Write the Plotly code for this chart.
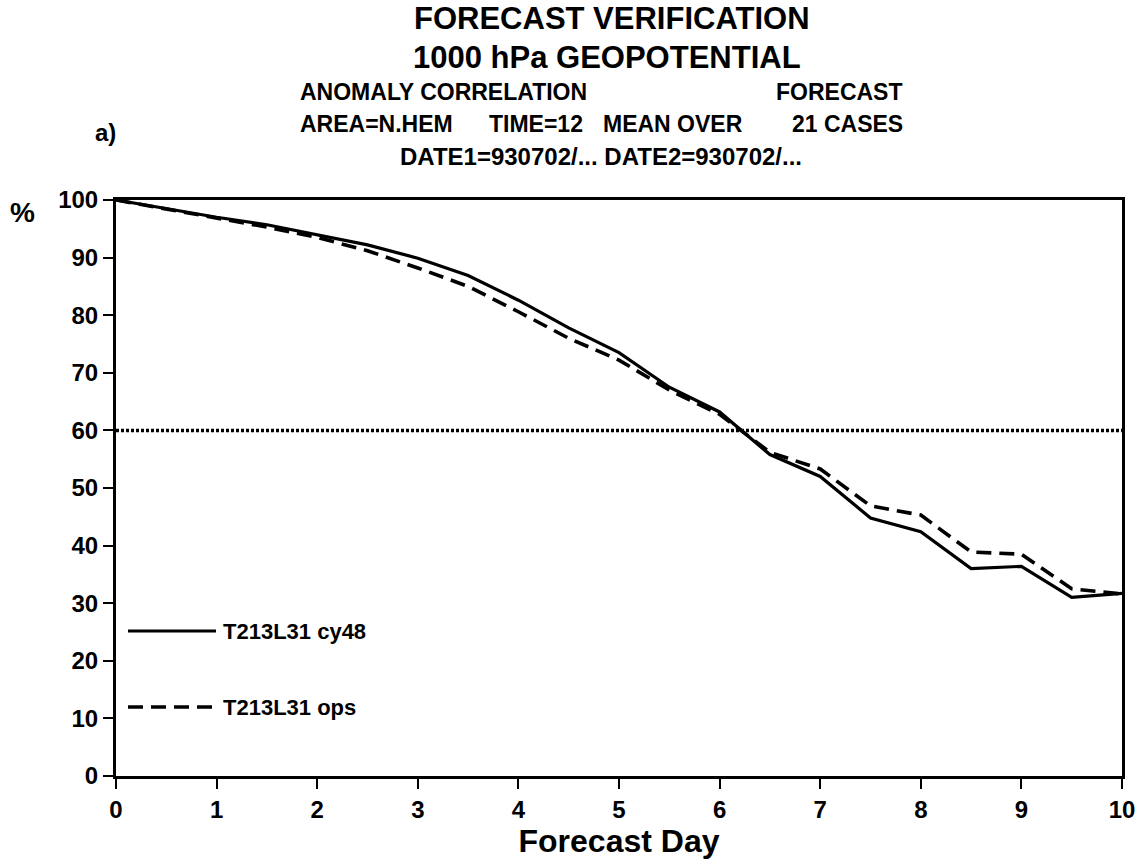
import plotly.graph_objects as go

# Forecast day (half-day steps) and anomaly correlation (%)
forecast_day = [0, 0.5, 1, 1.5, 2, 2.5, 3, 3.5, 4, 4.5, 5, 5.5, 6, 6.5, 7, 7.5, 8, 8.5, 9, 9.5, 10]
cy48 = [100, 98.5, 97.0, 95.7, 94.0, 92.2, 89.9, 86.9, 82.6, 77.8, 73.5, 67.5, 63.2,
        55.8, 52.0, 44.8, 42.4, 36.0, 36.4, 31.0, 31.7]
ops = [100, 98.4, 96.8, 95.3, 93.5, 91.2, 88.2, 85.0, 80.6, 76.0, 72.2, 67.0, 62.8,
       56.2, 53.3, 46.9, 45.3, 38.9, 38.5, 32.5, 31.6]
series_names = ["T213L31 cy48", "T213L31 ops"]
threshold = 60

x_ticks = list(range(0, 11))
y_ticks = list(range(0, 101, 10))

W, H = 1147, 865
L, R, T, B = 116, 1122, 200, 776  # plot box in pixels

FONT = "Liberation Sans, Arial, Helvetica, sans-serif"
DASH = "15px,8px"


def px(x):
    return (x - L) / (R - L)


def py(y):
    return (B - y) / (B - T)


fig = go.Figure()
fig.add_trace(go.Scatter(x=forecast_day, y=cy48, mode="lines", name=series_names[0],
                         line=dict(color="black", width=3.2), showlegend=False))
fig.add_trace(go.Scatter(x=forecast_day, y=ops, mode="lines", name=series_names[1],
                         line=dict(color="black", width=3.6, dash=DASH), showlegend=False))

# 60 % reference line
fig.add_shape(type="line", xref="x", yref="y", x0=0, x1=10, y0=threshold, y1=threshold,
              line=dict(color="black", width=3.5, dash="3px,2px"), layer="below")

# legend keys
fig.add_shape(type="line", xref="paper", yref="paper", x0=px(128), x1=px(216),
              y0=py(631), y1=py(631), line=dict(color="black", width=3))
fig.add_shape(type="line", xref="paper", yref="paper", x0=px(128), x1=px(216),
              y0=py(707), y1=py(707), line=dict(color="black", width=3.4, dash=DASH))
for yy, name in [(631, series_names[0]), (707, series_names[1])]:
    fig.add_annotation(x=px(221), y=py(yy), xref="paper", yref="paper", text=name,
                       showarrow=False, xanchor="left", yanchor="middle",
                       font=dict(family=FONT, size=22, color="black", weight="bold"))

# header lines
header = [
    ("FORECAST VERIFICATION", 612, 19, 31, "center"),
    ("1000 hPa GEOPOTENTIAL", 607, 57, 31, "center"),
    ("ANOMALY CORRELATION", 298, 92, 23, "left"),
    ("FORECAST", 905, 92, 23, "right"),
    ("AREA=N.HEM", 298, 124, 23, "left"),
    ("TIME=12", 487, 124, 23, "left"),
    ("MEAN OVER", 601, 124, 23, "left"),
    ("21 CASES", 905, 124, 23, "right"),
    ("DATE1=930702/... DATE2=930702/...", 601, 156, 24, "center"),
    ("a)", 105, 132, 24, "center"),
    ("%", 22, 212, 28, "center"),
]
for text, xx, yy, size, anchor in header:
    fig.add_annotation(x=px(xx), y=py(yy), xref="paper", yref="paper", text=text,
                       showarrow=False, xanchor=anchor, yanchor="middle",
                       font=dict(family=FONT, size=size, color="black", weight="bold"))

fig.update_layout(
    width=W, height=H,
    margin=dict(l=L, r=W - R, t=T, b=H - B),
    paper_bgcolor="white", plot_bgcolor="white",
    font=dict(family=FONT, color="black"),
)
fig.update_xaxes(range=[0, 10], tickvals=x_ticks, ticktext=[str(v) for v in x_ticks],
                 ticks="outside", ticklen=10, tickwidth=2, tickcolor="black",
                 showline=True, linecolor="black", linewidth=3, mirror=True,
                 showgrid=False, zeroline=False,
                 tickfont=dict(family=FONT, size=24, color="black", weight="bold"),
                 title=dict(text="Forecast Day", standoff=8,
                            font=dict(family=FONT, size=32, color="black", weight="bold")))
fig.update_yaxes(range=[0, 100], tickvals=y_ticks, ticktext=[str(v) for v in y_ticks],
                 ticks="outside", ticklen=10, tickwidth=2, tickcolor="black",
                 showline=True, linecolor="black", linewidth=3, mirror=True,
                 showgrid=False, zeroline=False,
                 tickfont=dict(family=FONT, size=24, color="black", weight="bold"))

fig.write_html("out.html")
